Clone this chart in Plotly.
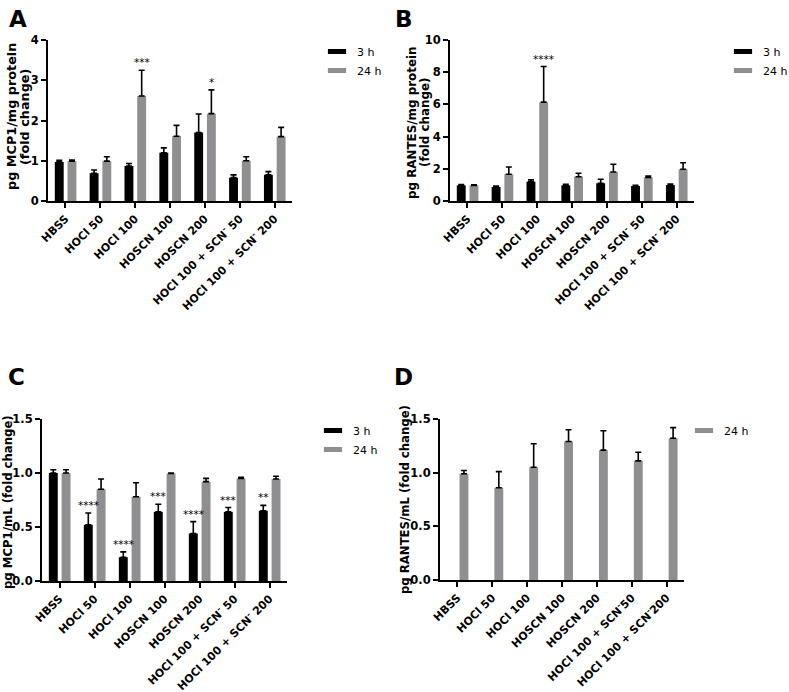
import plotly.graph_objects as go

W, H = 789, 692

labels_abc = ["HBSS", "HOCl 50", "HOCl 100", "HOSCN 100", "HOSCN 200",
              "HOCl 100 + SCN<sup>-</sup> 50", "HOCl 100 + SCN<sup>-</sup> 200"]
labels_d = ["HBSS", "HOCl 50", "HOCl 100", "HOSCN 100", "HOSCN 200",
            "HOCl 100 + SCN<sup>-</sup>50", "HOCl 100 + SCN<sup>-</sup>200"]

# Panel A: MCP1 / mg protein
a_3h = [0.97, 0.69, 0.87, 1.20, 1.70, 0.58, 0.65]
a_3h_err = [0.04, 0.08, 0.06, 0.12, 0.46, 0.07, 0.08]
a_24h = [0.99, 0.99, 2.61, 1.61, 2.17, 1.00, 1.60]
a_24h_err = [0.03, 0.11, 0.64, 0.27, 0.59, 0.10, 0.23]
a_stars_24h = ["", "", "***", "", "*", "", ""]

# Panel B: RANTES / mg protein
b_3h = [0.97, 0.87, 1.20, 0.97, 1.10, 0.93, 0.99]
b_3h_err = [0.05, 0.06, 0.11, 0.07, 0.25, 0.04, 0.07]
b_24h = [0.97, 1.66, 6.14, 1.51, 1.80, 1.47, 1.97]
b_24h_err = [0.03, 0.45, 2.21, 0.21, 0.48, 0.08, 0.41]
b_stars_24h = ["", "", "****", "", "", "", ""]

# Panel C: MCP1 / mL
c_3h = [1.00, 0.52, 0.22, 0.64, 0.44, 0.64, 0.65]
c_3h_err = [0.03, 0.11, 0.05, 0.07, 0.11, 0.04, 0.05]
c_24h = [1.00, 0.85, 0.78, 0.995, 0.92, 0.95, 0.945]
c_24h_err = [0.03, 0.095, 0.13, 0.005, 0.03, 0.01, 0.025]
c_stars_3h = ["", "****", "****", "***", "****", "***", "**"]

# Panel D: RANTES / mL
d_24h = [0.99, 0.86, 1.05, 1.29, 1.21, 1.11, 1.32]
d_24h_err = [0.03, 0.15, 0.22, 0.11, 0.18, 0.08, 0.10]

BLACK = "#000000"
GRAY = "#8F8F91"
FONT = "DejaVu Sans, Arial, sans-serif"
BW = 0.255
OFF3 = -0.305
OFF24 = 0.06

fig = go.Figure()
xs = list(range(7))


def add_bar(vals, errs, color, name, xa, ya, off):
    fig.add_trace(go.Bar(
        x=xs, y=vals, name=name, marker=dict(color=color, line=dict(width=0)),
        width=BW, offset=off, xaxis=xa, yaxis=ya, showlegend=False,
        error_y=dict(type="data", symmetric=False, array=errs, arrayminus=[0] * len(errs),
                     color="black", thickness=1.6, width=3),
    ))


def add_key(name, color, xa, ya, legend):
    # legend entry drawn as a wide flat swatch
    fig.add_trace(go.Scatter(
        x=[None], y=[None], mode="markers", name=name, xaxis=xa, yaxis=ya,
        legend=legend, hoverinfo="skip",
        marker=dict(symbol="line-ew", size=13, color=color,
                    line=dict(color=color, width=6)),
    ))


add_bar(a_3h, a_3h_err, BLACK, "3 h", "x", "y", OFF3)
add_bar(a_24h, a_24h_err, GRAY, "24 h", "x", "y", OFF24)
add_bar(b_3h, b_3h_err, BLACK, "3 h", "x2", "y2", OFF3)
add_bar(b_24h, b_24h_err, GRAY, "24 h", "x2", "y2", OFF24)
add_bar(c_3h, c_3h_err, BLACK, "3 h", "x3", "y3", OFF3)
add_bar(c_24h, c_24h_err, GRAY, "24 h", "x3", "y3", OFF24)
add_bar(d_24h, d_24h_err, GRAY, "24 h", "x4", "y4", OFF24)

add_key("3 h", BLACK, "x", "y", "legend")
add_key("24 h", GRAY, "x", "y", "legend")
add_key("3 h", BLACK, "x2", "y2", "legend2")
add_key("24 h", GRAY, "x2", "y2", "legend2")
add_key("3 h", BLACK, "x3", "y3", "legend3")
add_key("24 h", GRAY, "x3", "y3", "legend3")
add_key("24 h", GRAY, "x4", "y4", "legend4")


def px_x(p):
    return p / W


def px_y(p):
    return 1 - p / H


# panel geometry (pixels): x0, x1, ytop, ybottom
panels = {
    "": (48, 292, 40, 201),
    "2": (450, 694, 40, 201),
    "3": (42, 287, 419, 581),
    "4": (440, 684, 419, 580),
}
yranges = {"": [0, 4], "2": [0, 10], "3": [0, 1.5], "4": [0, 1.5]}
dticks = {"": 1, "2": 2, "3": 0.5, "4": 0.5}
tfmt = {"": "d", "2": "d", "3": ".1f", "4": ".1f"}
ticklabels = {"": labels_abc, "2": labels_abc, "3": labels_abc, "4": labels_d}

# y-axis titles: (text, x px, y px, font size)
ytitle_lines = [
    ("pg MCP1/mg protein", 11, 117, 12.8),
    ("(fold change)", 24, 117, 12.8),
    ("pg RANTES/mg protein", 412, 122, 11.9),
    ("(fold change)", 425, 122, 11.9),
    ("pg MCP1/mL (fold change)", 8, 502, 11.7),
    ("pg RANTES/mL (fold change)", 405, 499, 11.7),
]

layout = dict(
    width=W, height=H, margin=dict(l=0, r=0, t=0, b=0, autoexpand=False),
    paper_bgcolor="white", plot_bgcolor="white",
    barmode="overlay", font=dict(family=FONT, color="black"),
)
for k, (x0, x1, yt, yb) in panels.items():
    layout["xaxis" + k] = dict(
        domain=[px_x(x0), px_x(x1)], anchor="y" + k, range=[-0.5, 6.5],
        tickmode="array", tickvals=xs, ticktext=ticklabels[k], tickangle=-45,
        showline=True, linecolor="black", linewidth=2, ticks="outside", ticklen=5,
        tickwidth=1.5, tickcolor="black", showgrid=False, zeroline=False,
        automargin=False, fixedrange=True,
        tickfont=dict(size=11, family=FONT, weight="bold"),
    )
    layout["yaxis" + k] = dict(
        domain=[px_y(yb), px_y(yt)], anchor="x" + k, range=yranges[k],
        dtick=dticks[k], tickformat=tfmt[k],
        showline=True, linecolor="black", linewidth=2, ticks="outside", ticklen=5,
        tickwidth=1.5, tickcolor="black", showgrid=False, zeroline=False,
        automargin=False, fixedrange=True,
        tickfont=dict(size=11.5, family=FONT, weight="bold"),
    )

leg_common = dict(xanchor="left", yanchor="top", bgcolor="rgba(0,0,0,0)",
                  font=dict(size=11, family=FONT), itemwidth=30, tracegroupgap=0)
layout["legend"] = dict(x=px_x(317), y=px_y(37), **leg_common)
layout["legend2"] = dict(x=px_x(723), y=px_y(37), **leg_common)
layout["legend3"] = dict(x=px_x(313), y=px_y(416), **leg_common)
layout["legend4"] = dict(x=px_x(684), y=px_y(416), **leg_common)

annotations = []
for txt, (x, y) in zip("ABCD", [(7, 4), (393, 4), (6, 362), (392, 362)]):
    annotations.append(dict(text=txt, x=px_x(x), y=px_y(y), xref="paper", yref="paper",
                            xanchor="left", yanchor="top", showarrow=False,
                            font=dict(size=23, family=FONT, weight="bold")))

for txt, x, y, fs in ytitle_lines:
    annotations.append(dict(text=txt, x=px_x(x), y=px_y(y), xref="paper", yref="paper",
                            xanchor="center", yanchor="middle", textangle=-90,
                            showarrow=False,
                            font=dict(size=fs, family=FONT, weight="bold")))


def add_stars(stars, vals, errs, k, off):
    for i, s in enumerate(stars):
        if not s:
            continue
        annotations.append(dict(text=s, x=i + off + BW / 2, y=vals[i] + errs[i],
                                xref="x" + k, yref="y" + k, xanchor="center",
                                yanchor="bottom", yshift=0, showarrow=False,
                                font=dict(size=10.5, family=FONT)))


add_stars(a_stars_24h, a_24h, a_24h_err, "", OFF24)
add_stars(b_stars_24h, b_24h, b_24h_err, "2", OFF24)
add_stars(c_stars_3h, c_3h, c_3h_err, "3", OFF3)
layout["annotations"] = annotations

fig.update_layout(**layout)
fig.write_html("out.html", config={"displayModeBar": False},
               post_script="document.body.style.margin='0px';")
